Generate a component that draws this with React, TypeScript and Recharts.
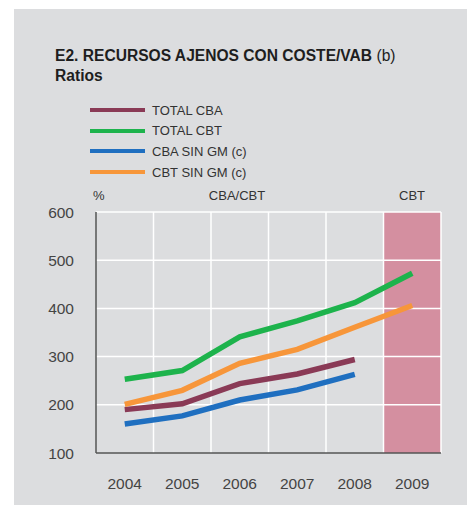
import {
  LineChart,
  Line,
  XAxis,
  YAxis,
  ReferenceArea,
  ReferenceLine,
} from "recharts";

const years = ["2004", "2005", "2006", "2007", "2008", "2009"];
const totalCba = [190, 202, 244, 264, 294, null];
const totalCbt = [253, 271, 341, 374, 412, 473];
const cbaSinGm = [160, 177, 210, 231, 263, null];
const cbtSinGm = [201, 230, 286, 315, 361, 406];
const yTicks = [100, 200, 300, 400, 500, 600];

const series = [
  { key: "totalCba", name: "TOTAL CBA", color: "#8a3a56" },
  { key: "totalCbt", name: "TOTAL CBT", color: "#1db34c" },
  { key: "cbaSinGm", name: "CBA SIN GM (c)", color: "#1f6fc0" },
  { key: "cbtSinGm", name: "CBT SIN GM (c)", color: "#f7963a" },
];

const data = years.map((year, i) => ({
  idx: i,
  year,
  totalCba: totalCba[i],
  totalCbt: totalCbt[i],
  cbaSinGm: cbaSinGm[i],
  cbtSinGm: cbtSinGm[i],
}));

const font = "'Liberation Sans', Arial, Helvetica, sans-serif";

function App() {
  const edges = years.map((_, i) => i + 0.5);
  return (
    <div
      style={{
        position: "absolute",
        left: 0,
        top: 0,
        width: 467,
        height: 510,
        background: "#fff",
        fontFamily: font,
      }}
    >
      <div
        style={{
          position: "absolute",
          left: 14,
          top: 9,
          width: 453,
          height: 496,
          background: "#dcdddf",
        }}
      />
      <div
        style={{
          position: "absolute",
          left: 55,
          top: 46,
          fontSize: 15.6,
          lineHeight: "20px",
          color: "#1e1e1e",
        }}
      >
        <b>E2. RECURSOS AJENOS CON COSTE/VAB</b> (b)
        <br />
        <b>Ratios</b>
      </div>
      {series.map((s, i) => (
        <div
          key={s.key}
          style={{
            position: "absolute",
            left: 90,
            top: 101 + i * 20.7,
            height: 18,
            display: "flex",
            alignItems: "center",
            fontSize: 13,
            color: "#333",
          }}
        >
          <span
            style={{
              display: "inline-block",
              width: 55,
              height: 4,
              background: s.color,
              marginRight: 7,
            }}
          />
          {s.name}
        </div>
      ))}
      <div style={{ position: "absolute", left: 93, top: 188, fontSize: 13, color: "#333" }}>%</div>
      <div
        style={{
          position: "absolute",
          left: 237,
          top: 188,
          fontSize: 13,
          color: "#333",
          transform: "translateX(-50%)",
        }}
      >
        CBA/CBT
      </div>
      <div
        style={{
          position: "absolute",
          left: 412,
          top: 188,
          fontSize: 13,
          color: "#333",
          transform: "translateX(-50%)",
        }}
      >
        CBT
      </div>
      <div style={{ position: "absolute", left: 0, top: 0 }}>
        <LineChart
          width={467}
          height={510}
          data={data}
          margin={{ top: 212, right: 26, bottom: 27, left: 36 }}
        >
          <ReferenceArea x1={4.5} x2={5.5} y1={100} y2={600} fill="#d48fa0" fillOpacity={1} stroke="none" />
          {edges.map((e) => (
            <ReferenceLine key={"v" + e} x={e} stroke="#fff" strokeWidth={1.5} />
          ))}
          {yTicks.slice(1).map((t) => (
            <ReferenceLine key={"h" + t} y={t} stroke="#fff" strokeWidth={1.5} />
          ))}
          <XAxis
            type="number"
            dataKey="idx"
            domain={[-0.5, 5.5]}
            ticks={years.map((_, i) => i)}
            tickFormatter={(v) => years[v]}
            height={30}
            tickLine={false}
            tickSize={0}
            tickMargin={25}
            axisLine={{ stroke: "#555", strokeWidth: 1.5 }}
            tick={{ fill: "#444", fontSize: 15.5, fontFamily: font }}
          />
          <YAxis
            domain={[100, 600]}
            ticks={yTicks}
            width={60}
            tickLine={false}
            tickSize={0}
            tickMargin={22}
            axisLine={{ stroke: "#555", strokeWidth: 1.5 }}
            tick={{ fill: "#444", fontSize: 15.5, fontFamily: font }}
          />
          {series.map((s) => (
            <Line
              key={s.key}
              dataKey={s.key}
              name={s.name}
              stroke={s.color}
              strokeWidth={5.5}
              dot={false}
              type="linear"
              isAnimationActive={false}
            />
          ))}
        </LineChart>
      </div>
    </div>
  );
}

export default App;
